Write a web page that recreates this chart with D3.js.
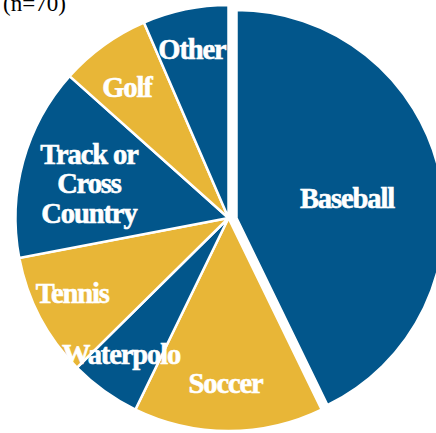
<!DOCTYPE html>
<html>
<head>
<meta charset="utf-8">
<script src="https://cdn.jsdelivr.net/npm/d3@7"></script>
<style>
  html, body { margin: 0; padding: 0; background: #ffffff; }
  svg { display: block; }
</style>
</head>
<body>
<svg id="chart" width="436" height="433"></svg>
<script>
// Sport played, share of respondents (%), n = 70
const categories = ["Baseball", "Soccer", "Waterpolo", "Tennis", "Track or Cross Country", "Golf", "Other"];
const shares = [42.8, 14.4, 5.4, 9.4, 14.6, 6.9, 6.5];
const labelLines = [["Baseball"], ["Soccer"], ["Waterpolo"], ["Tennis"], ["Track or", "Cross", "Country"], ["Golf"], ["Other"]];
const sampleNote = "(n=70)";

// Layout
const W = 436, H = 433;
const cx = 228.5, cy = 218;
const R = 213;              // pie radius
const explodeDx = 8;        // the first slice is pulled out to the right
const explodedR = 208;
const labelRadius = [112, 166, 174, 174, 143.5, 164.6, 171.5];
const labelTurn = [3.5, 1, 2.5, 1.6, -2, -2.3, -0.6];   // degrees
const colors = ["#02568b", "#e8b637"];
const fontSize = 28.5, lineHeight = 29.7, capHalf = 8.8;

const svg = d3.select("#chart");

const pie = d3.pie().sort(null).value(d => d).startAngle(0).endAngle(2 * Math.PI);
const arcs = pie(shares);

const arcGen = d3.arc()
  .innerRadius(0)
  .outerRadius(d => d.index === 0 ? explodedR : R);

const originOf = d => [d.index === 0 ? cx + explodeDx : cx, cy];

// Slices
svg.append("g")
  .selectAll("path")
  .data(arcs)
  .join("path")
  .attr("transform", d => `translate(${originOf(d)})`)
  .attr("d", arcGen)
  .attr("fill", d => colors[d.index % 2])
  .attr("stroke", "#ffffff")
  .attr("stroke-width", 2.5)
  .attr("stroke-linejoin", "miter");

// Slice labels, on top of every slice, centred near each bisector
svg.append("g")
  .selectAll("text")
  .data(arcs)
  .join("text")
  .attr("transform", d => `translate(${originOf(d)})`)
  .attr("text-anchor", "middle")
  .attr("font-family", "'Liberation Serif', 'Times New Roman', serif")
  .attr("font-weight", "bold")
  .attr("font-size", fontSize)
  .attr("letter-spacing", -1.1)
  .attr("fill", "#ffffff")
  .attr("stroke", "#ffffff")
  .attr("stroke-width", 0.6)
  .each(function (d) {
    const a = (d.startAngle + d.endAngle) / 2 + labelTurn[d.index] * Math.PI / 180;
    const r = labelRadius[d.index];
    const x = r * Math.sin(a);
    const y = -r * Math.cos(a);
    const lines = labelLines[d.index];
    const n = lines.length;
    d3.select(this).selectAll("tspan")
      .data(lines)
      .join("tspan")
      .attr("x", x)
      .attr("y", (t, i) => y + (i - (n - 1) / 2) * lineHeight + capHalf)
      .text(t => t);
  });

svg.append("text")
  .attr("x", 3)
  .attr("y", 11)
  .attr("font-family", "'Liberation Serif', 'Times New Roman', serif")
  .attr("font-size", 23)
  .attr("fill", "#000000")
  .text(sampleNote);
</script>
</body>
</html>
